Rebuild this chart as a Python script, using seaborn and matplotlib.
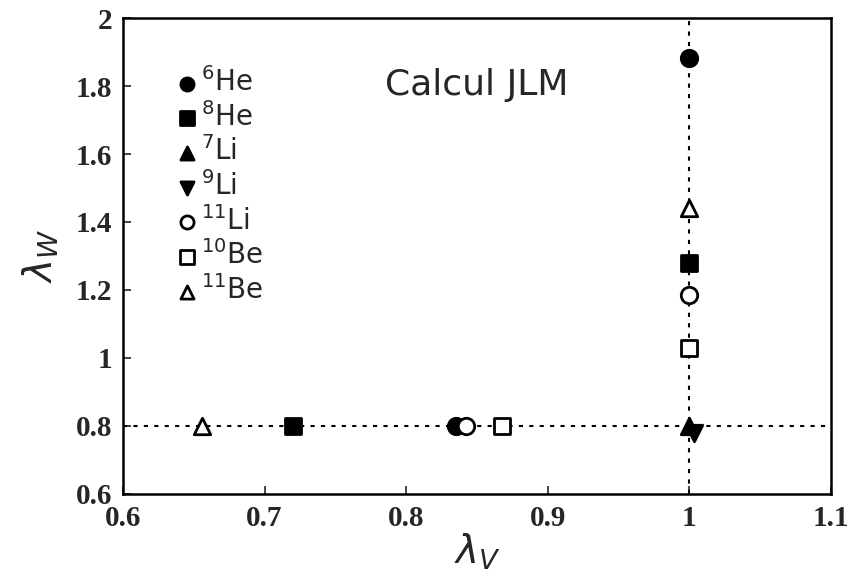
import matplotlib
matplotlib.use("Agg")
import matplotlib.pyplot as plt
import seaborn as sns
import pandas as pd

nuclei = ["$^{6}$He", "$^{8}$He", "$^{7}$Li", "$^{9}$Li", "$^{11}$Li", "$^{10}$Be", "$^{11}$Be"]
lambda_v = [[0.835, 1.0], [0.72, 1.0], [1.0], [1.003], [0.842, 1.0], [0.868, 1.0], [0.656, 1.0]]
lambda_w = [[0.8, 1.882], [0.8, 1.28], [0.8], [0.78], [0.8, 1.185], [0.8, 1.03], [0.8, 1.44]]
markers = ["o", "s", "^", "v", "o", "s", "^"]
filled = [True, True, True, True, False, False, False]

x_ticks = [0.6, 0.7, 0.8, 0.9, 1.0, 1.1]
x_labels = ["0.6", "0.7", "0.8", "0.9", "1", "1.1"]
y_ticks = [0.6, 0.8, 1.0, 1.2, 1.4, 1.6, 1.8, 2.0]
y_labels = ["0.6", "0.8", "1", "1.2", "1.4", "1.6", "1.8", "2"]

rows = []
for n, xs, ys in zip(nuclei, lambda_v, lambda_w):
    for xv, yv in zip(xs, ys):
        rows.append({"nucleus": n, "lv": xv, "lw": yv})
df = pd.DataFrame(rows)

sns.set_style("white")
plt.rcParams["font.family"] = ["DejaVu Sans"]

fig = plt.figure(figsize=(8.5, 5.85), dpi=100)
ax = fig.add_axes([0.1447, 0.1556, 0.8329, 0.8136])

ax.axhline(0.8, color="black", ls=(0, (2, 3)), lw=1.5, zorder=1)
ax.axvline(1.0, color="black", ls=(0, (2, 3)), lw=1.5, zorder=1)

for n, m, f in zip(nuclei, markers, filled):
    sub = df[df["nucleus"] == n]
    sns.scatterplot(data=sub, x="lv", y="lw", ax=ax, marker=m, s=140,
                    facecolor="black" if f else "white", edgecolor="black",
                    linewidth=2, label=n, zorder=3)

ax.set_xlim(0.6, 1.1)
ax.set_ylim(0.6, 2.0)
ax.set_xticks(x_ticks)
ax.set_xticklabels(x_labels)
ax.set_yticks(y_ticks)
ax.set_yticklabels(y_labels)
for lab in ax.get_xticklabels() + ax.get_yticklabels():
    lab.set_fontfamily("Liberation Serif")
    lab.set_fontweight("bold")
    lab.set_fontsize(21)
ax.tick_params(axis="both", direction="in", length=6, width=1.2, top=False, right=False,
               bottom=True, left=True)
ax.tick_params(axis="x", pad=8)
ax.tick_params(axis="y", pad=8)
for sp in ax.spines.values():
    sp.set_color("black")
    sp.set_linewidth(1.8)

ax.set_xlabel(r"$\lambda_V$", fontsize=28, labelpad=0)
ax.set_ylabel(r"$\lambda_W$", fontsize=28, labelpad=10)

ax.text(0.50, 0.86, "Calcul JLM", transform=ax.transAxes, fontsize=26, ha="center", va="center")

leg = ax.legend(loc="upper left", bbox_to_anchor=(0.055, 0.92), frameon=False,
                fontsize=20, handletextpad=0.0, labelspacing=0.17, borderaxespad=0,
                markerscale=0.8, handlelength=1.0)

fig.savefig("out.png", dpi=100)
